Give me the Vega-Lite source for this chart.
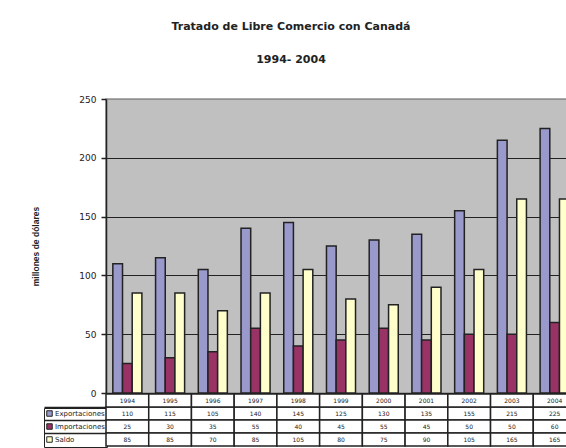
{
  "$schema": "https://vega.github.io/schema/vega-lite/v6.json",
  "background": "white",
  "padding": {"left": 31, "top": 20, "right": 0, "bottom": 0},
  "config": {"font": "DejaVu Sans", "axis": {"labelFont": "DejaVu Sans"}},
  "datasets": {
    "trade": [
      {"year": "1994", "series": "Exportaciones", "value": 110},
      {"year": "1994", "series": "Importaciones", "value": 25},
      {"year": "1994", "series": "Saldo", "value": 85},
      {"year": "1995", "series": "Exportaciones", "value": 115},
      {"year": "1995", "series": "Importaciones", "value": 30},
      {"year": "1995", "series": "Saldo", "value": 85},
      {"year": "1996", "series": "Exportaciones", "value": 105},
      {"year": "1996", "series": "Importaciones", "value": 35},
      {"year": "1996", "series": "Saldo", "value": 70},
      {"year": "1997", "series": "Exportaciones", "value": 140},
      {"year": "1997", "series": "Importaciones", "value": 55},
      {"year": "1997", "series": "Saldo", "value": 85},
      {"year": "1998", "series": "Exportaciones", "value": 145},
      {"year": "1998", "series": "Importaciones", "value": 40},
      {"year": "1998", "series": "Saldo", "value": 105},
      {"year": "1999", "series": "Exportaciones", "value": 125},
      {"year": "1999", "series": "Importaciones", "value": 45},
      {"year": "1999", "series": "Saldo", "value": 80},
      {"year": "2000", "series": "Exportaciones", "value": 130},
      {"year": "2000", "series": "Importaciones", "value": 55},
      {"year": "2000", "series": "Saldo", "value": 75},
      {"year": "2001", "series": "Exportaciones", "value": 135},
      {"year": "2001", "series": "Importaciones", "value": 45},
      {"year": "2001", "series": "Saldo", "value": 90},
      {"year": "2002", "series": "Exportaciones", "value": 155},
      {"year": "2002", "series": "Importaciones", "value": 50},
      {"year": "2002", "series": "Saldo", "value": 105},
      {"year": "2003", "series": "Exportaciones", "value": 215},
      {"year": "2003", "series": "Importaciones", "value": 50},
      {"year": "2003", "series": "Saldo", "value": 165},
      {"year": "2004", "series": "Exportaciones", "value": 225},
      {"year": "2004", "series": "Importaciones", "value": 60},
      {"year": "2004", "series": "Saldo", "value": 165}
    ]
  },
  "bounds": "flush",
  "spacing": 1,
  "resolve": {"legend": {"color": "independent"}},
  "vconcat": [
    {
      "width": 470,
      "height": 294,
      "title": {
        "text": "Tratado de Libre Comercio con Canadá",
        "subtitle": "1994- 2004",
        "font": "DejaVu Sans",
        "fontSize": 11,
        "fontWeight": "bold",
        "color": "#222222",
        "subtitleFont": "DejaVu Sans",
        "subtitleFontSize": 11,
        "subtitleFontWeight": "bold",
        "subtitleColor": "#222222",
        "subtitlePadding": 22,
        "offset": 30,
        "anchor": "middle",
        "dx": -50
      },
      "view": {"fill": "#C0C0C0", "stroke": "#909090", "strokeWidth": 1.5},
      "data": {"name": "trade"},
      "mark": {"type": "bar", "stroke": "#222222", "strokeWidth": 1.5},
      "encoding": {
        "x": {
          "field": "year",
          "type": "nominal",
          "scale": {"paddingInner": 0.32, "paddingOuter": 0.16},
          "axis": null
        },
        "xOffset": {
          "field": "series",
          "type": "nominal",
          "sort": ["Exportaciones", "Importaciones", "Saldo"],
          "scale": {"paddingInner": 0, "paddingOuter": 0}
        },
        "y": {
          "field": "value",
          "type": "quantitative",
          "scale": {"domain": [0, 250], "nice": false},
          "axis": {
            "values": [0, 50, 100, 150, 200, 250],
            "title": "millones de dólares",
            "titleFont": "Liberation Sans",
            "titleFontSize": 8.5,
            "titleFontWeight": "bold",
            "titleColor": "#222222",
            "titlePadding": 38,
            "labelFontSize": 9,
            "labelColor": "#222222",
            "labelPadding": 5,
            "tickColor": "#222222",
            "tickSize": 5,
            "tickWidth": 1.5,
            "domainColor": "#222222",
            "domainWidth": 1.5,
            "gridColor": {"condition": {"test": "datum.value == 250", "value": "#909090"}, "value": "#222222"},
            "gridWidth": 1.2
          }
        },
        "color": {
          "field": "series",
          "type": "nominal",
          "scale": {
            "domain": ["Exportaciones", "Importaciones", "Saldo"],
            "range": ["#9999CC", "#993366", "#FFFFCC"]
          },
          "legend": {
            "orient": "none",
            "legendX": -62,
            "legendY": 309,
            "title": null,
            "symbolType": "square",
            "symbolSize": 30,
            "symbolStrokeColor": "#222222",
            "symbolStrokeWidth": 1,
            "labelFont": "DejaVu Sans",
            "labelFontSize": 7,
            "labelColor": "#222222",
            "labelOffset": 2,
            "rowPadding": 2,
            "padding": 2,
            "strokeColor": "#222222"
          }
        }
      }
    },
    {
      "width": 470,
      "height": 52,
      "view": {"stroke": null},
      "data": {"name": "trade"},
      "layer": [
        {
          "mark": {"type": "rect", "fill": "white", "stroke": "#222222", "strokeWidth": 1.5},
          "encoding": {
            "x": {
              "field": "year",
              "type": "nominal",
              "scale": {"paddingInner": 0, "paddingOuter": 0},
              "axis": null
            },
            "y": {
              "field": "series",
              "type": "nominal",
              "scale": {
                "domain": ["_year", "Exportaciones", "Importaciones", "Saldo"],
                "paddingInner": 0,
                "paddingOuter": 0
              },
              "axis": {
                "values": ["Exportaciones", "Importaciones", "Saldo"],
                "labels": false,
                "domain": false,
                "grid": false,
                "ticks": true,
                "tickSize": 62,
                "tickWidth": 1.5,
                "tickColor": "#222222",
                "bandPosition": 0,
                "title": null
              }
            }
          }
        },
        {
          "transform": [{"filter": "datum.series == 'Exportaciones'"}],
          "mark": {"type": "rect", "fill": "white", "stroke": "#222222", "strokeWidth": 1.5},
          "encoding": {
            "x": {"field": "year", "type": "nominal"},
            "y": {"datum": "_year"}
          }
        },
        {
          "mark": {"type": "text", "font": "DejaVu Sans", "fontSize": 6, "color": "#222222"},
          "encoding": {
            "x": {"field": "year", "type": "nominal"},
            "y": {"field": "series", "type": "nominal"},
            "text": {"field": "value", "type": "nominal"}
          }
        },
        {
          "transform": [{"filter": "datum.series == 'Exportaciones'"}],
          "mark": {"type": "text", "font": "DejaVu Sans", "fontSize": 6, "color": "#222222"},
          "encoding": {
            "x": {"field": "year", "type": "nominal"},
            "y": {"datum": "_year"},
            "text": {"field": "year", "type": "nominal"}
          }
        }
      ]
    }
  ]
}
